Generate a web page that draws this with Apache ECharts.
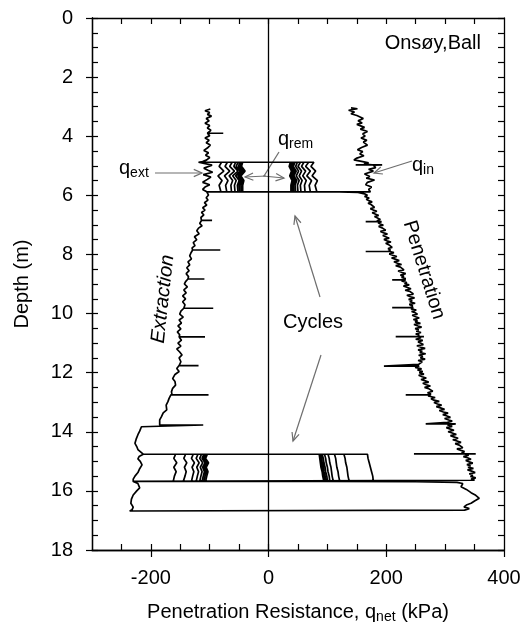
<!DOCTYPE html>
<html><head><meta charset="utf-8">
<script src="https://cdn.jsdelivr.net/npm/echarts@6/dist/echarts.min.js"></script>
<style>html,body{margin:0;padding:0;background:#fff}#c{width:526px;height:622px}</style>
</head><body><div id="c"></div>
<script>
const FONT = '"Liberation Sans", Arial, sans-serif';

// tick values
const xTickLabels = [-200, 0, 200, 400];
const xMinorTicks = [-250, -200, -150, -100, -50, 0, 50, 100, 150, 200, 250, 300, 350];
const yTickLabels = [0, 2, 4, 6, 8, 10, 12, 14, 16, 18];

// traces: [q_net (kPa), depth (m)]
const penetrationUpper = [[140,3.04],[151,3.07],[136,3.12],[146,3.18],[140,3.24],[150,3.3],[161,3.4],[152,3.48],[159,3.55],[150,3.6],[163,3.7],[156,3.76],[168,3.84],[160,3.92],[164,4.0],[157,4.06],[167,4.14],[161,4.2],[168,4.3],[158,4.38],[151,4.46],[160,4.52],[155,4.6],[162,4.66],[150,4.74],[145,4.8],[160,4.86],[170,4.9],[162,4.94],[176,4.97],[148,4.97],[193,4.97],[178,4.98],[182,5.06],[170,5.12],[178,5.18],[163,5.28],[172,5.36],[166,5.42],[180,5.48],[168,5.56],[165,5.64],[175,5.72],[170,5.8],[173,5.88]];

const penetrationMiddle = [[120,5.885],[152,5.9],[163,5.95],
[168,6.0],[163,6.04],[171,6.09],[166,6.13],[170,6.18],[176,6.22],[169,6.27],[174,6.31],[172,6.36],[180,6.41],[173,6.45],[178,6.5],[184,6.54],[176,6.59],[181,6.63],[187,6.68],[180,6.72],[183,6.77],[190,6.82],[184,6.86],[188,6.89],[165,6.89],[192,6.89],[186,6.93],[190,6.97],[195,7.01],[187,7.05],[193,7.1],[191,7.14],
[199,7.18],[190,7.22],[196,7.27],[202,7.31],[194,7.36],[197,7.4],[205,7.45],[196,7.49],[201,7.54],[208,7.58],[199,7.62],[204,7.67],[201,7.71],[210,7.76],[203,7.8],[207,7.85],[203,7.9],[165,7.9],[206,7.9],[213,7.94],[205,7.98],
[211,8.03],[218,8.07],[209,8.12],[215,8.16],[222,8.21],[213,8.25],[219,8.3],[226,8.34],[216,8.38],[224,8.43],[221,8.47],[230,8.52],[220,8.56],[227,8.61],[233,8.65],[224,8.7],[230,8.74],[226,8.78],[233,8.82],[228,8.86],[210,8.86],[233,8.86],[226,8.9],[235,8.95],[231,8.99],
[239,9.03],[229,9.07],[236,9.12],[242,9.16],[232,9.21],[240,9.25],[237,9.29],[246,9.34],[235,9.38],[241,9.43],[248,9.47],[238,9.52],[244,9.56],[240,9.6],[249,9.65],[239,9.69],[245,9.74],[240,9.8],[210,9.8],[246,9.8],[242,9.84],[251,9.88],[243,9.93],[249,9.97],
[253,10.02],[244,10.06],[250,10.11],[256,10.15],[246,10.2],[253,10.24],[249,10.28],[258,10.33],[247,10.37],[254,10.42],[260,10.46],[249,10.51],[255,10.55],[251,10.6],[259,10.64],[250,10.69],[256,10.73],[252,10.78],[216,10.78],[264,10.78],[253,10.78],[259,10.82],[250,10.87],[262,10.91],[254,10.96],[258,11.0],
[263,11.05],[252,11.09],[259,11.14],[266,11.18],[254,11.23],[261,11.27],[257,11.32],[267,11.36],[255,11.41],[262,11.45],[258,11.5],[266,11.54],[254,11.59],[261,11.63],[264,11.68],[255,11.72],[252,11.78],[196,11.78],[256,11.78],[249,11.82],[260,11.87],[253,11.91],[262,11.96],[256,12.0],
[264,12.05],[255,12.09],[261,12.14],[268,12.18],[259,12.23],[265,12.27],[272,12.32],[262,12.36],[268,12.41],[275,12.45],[265,12.5],[272,12.54],[269,12.59],[279,12.63],[270,12.68],[276,12.72],[272,12.75],[233,12.75],[276,12.75],[271,12.79],[283,12.84],[276,12.88],[281,12.93],[290,12.97],[281,13.01],
[287,13.06],[294,13.1],[285,13.15],[292,13.19],[299,13.24],[290,13.28],[297,13.33],[305,13.37],[296,13.42],[302,13.46],[309,13.51],[299,13.55],[306,13.6],[312,13.64],[304,13.68],[306,13.73],[267,13.73],[318,13.73],[304,13.77],[312,13.82],[302,13.86],[309,13.91],[315,13.95],[305,14.0],
[312,14.04],[319,14.09],[309,14.13],[316,14.18],[322,14.22],[313,14.27],[320,14.31],[327,14.36],[317,14.4],[324,14.45],[321,14.49],[330,14.54],[320,14.58],[327,14.63],[333,14.67],[328,14.71],[335,14.75],[247,14.75],[352,14.75],[333,14.75],
[340,14.79],[331,14.84],[338,14.88],[344,14.93],[335,14.97],[341,15.02],[347,15.06],[337,15.11],[343,15.15],[339,15.2],[348,15.24],[338,15.29],[345,15.33],[351,15.38],[341,15.42],[347,15.47],[343,15.51],[352,15.56],[344,15.6],[350,15.64],[349,15.68]];

const penetrationLower = [[250,15.69],[320,15.71],[330,15.75],[327,15.86],[336,15.95],[344,16.06],[352,16.15],[358,16.25],[350,16.34],[344,16.42],[336,16.48],[332,16.54],[341,16.6],[333,16.65],[332,16.68]];

// extraction trace, listed from top to bottom
const extractionUpper = [[-99,3.08],[-108,3.14],[-100,3.2],[-104,3.26],[-97,3.32],[-106,3.4],[-101,3.48],[-108,3.56],[-100,3.64],[-104,3.72],[-98,3.8],[-106,3.86],[-104,3.9],[-77,3.9],[-104,3.9],[-100,3.98],[-108,4.06],[-101,4.14],[-106,4.22],[-99,4.3],[-104,4.4],[-110,4.48],[-102,4.56],[-107,4.64],[-100,4.72],[-105,4.8],[-112,4.86]];

const extractionZone1 = [[-119,4.88],[-96,4.98],[-110,5.08],[-103,5.15],[-95,5.22],[-111,5.3],[-98,5.38],[-104,5.46],[-112,5.56],[-100,5.64],[-108,5.72],[-112,5.8],[-105,5.88]];

const extractionMiddle = [[-102,5.99],[-106,6.08],[-103,6.16],[-109,6.25],[-105,6.33],[-112,6.42],[-108,6.5],[-114,6.58],[-110,6.66],[-115,6.75],[-114,6.85],[-96,6.85],[-114,6.85],[-117,6.95],[-113,7.03],[-119,7.11],[-122,7.2],[-118,7.3],[-126,7.4],[-122,7.5],[-128,7.6],[-125,7.7],[-130,7.78],[-129,7.85],[-82,7.85],[-129,7.85],[-132,7.95],[-134,8.05],[-131,8.15],[-137,8.25],[-134,8.35],[-139,8.45],[-135,8.55],[-140,8.65],[-136,8.75],[-137,8.83],[-109,8.83],[-137,8.83],[-141,8.92],[-143,9.0],[-138,9.1],[-144,9.2],[-140,9.3],[-146,9.4],[-141,9.5],[-146,9.6],[-142,9.7],[-144,9.82],[-94,9.82],[-144,9.82],[-149,9.92],[-151,10.02],[-145,10.12],[-152,10.22],[-148,10.32],[-154,10.42],[-149,10.52],[-155,10.62],[-151,10.72],[-152,10.79],[-108,10.79],[-152,10.79],[-148,10.9],[-154,11.0],[-149,11.1],[-156,11.2],[-151,11.3],[-147,11.4],[-152,11.5],[-149,11.63],[-152,11.76],[-119,11.76],[-152,11.76],[-156,11.86],[-152,11.96],[-159,12.06],[-163,12.2],[-159,12.3],[-158,12.42],[-163,12.53],[-165,12.65],[-164,12.75],[-102,12.75],[-166,12.75],[-169,12.87],[-171,12.98],[-174,13.1],[-173,13.26],[-179,13.36],[-182,13.49],[-185,13.6],[-184,13.71],[-185,13.77],[-111,13.77],[-216,13.77],[-216,13.83],[-219,13.98],[-222,14.1],[-225,14.25],[-227,14.39],[-224,14.5],[-222,14.6],[-213,14.73]];

const extractionZone2 = [[-213,14.76],[-220,14.84],[-222,14.92],[-218,15.0],[-215,15.12],[-219,15.25],[-222,15.38],[-227,15.5],[-230,15.6],[-230,15.68]];

const extractionLower = [[-222,15.75],[-219,15.9],[-224,16.0],[-230,16.14],[-233,16.28],[-234,16.42],[-230,16.55],[-232,16.64],[-236,16.68]];

// cycles near 5 m: q at each depth of cycleDepths1
const cycleDepths1 = [4.88, 5.02, 5.18, 5.34, 5.5, 5.66, 5.88];
const cyclePen1 = [
  [77,72,80,74,83,79,82],
  [68,63,71,65,73,69,71],
  [60,56,63,58,64,61,62],
  [54,50,56,52,57,54,55],
  [49,46,51,47,52,49,50],
  [45,42,47,43,48,45,46],
  [42,39,44,40,45,42,43],
  [39,37,41,38,42,40,40],
  [37,35,39,36,40,38,38]
];
const cycleExt1 = [
  [-80,-84,-76,-86,-79,-84,-81],
  [-70,-74,-66,-75,-69,-73,-71],
  [-62,-66,-58,-67,-61,-64,-63],
  [-56,-59,-52,-61,-55,-58,-57],
  [-52,-55,-48,-56,-50,-53,-52],
  [-49,-51,-45,-52,-47,-50,-49],
  [-46,-48,-42,-49,-44,-47,-46],
  [-44,-46,-40,-47,-42,-44,-44]
];

// cycles near 15 m
const cycleDepths2 = [14.76, 14.9, 15.05, 15.2, 15.35, 15.5, 15.68];
const cyclePen2 = [
  [168,169,171,173,175,177,178],
  [128,130,131,133,134,135,137],
  [112,114,115,116,118,119,121],
  [101,103,104,106,107,108,110],
  [95,97,98,100,101,103,104],
  [91,93,94,96,97,99,100],
  [89,90,91,93,94,96,97],
  [87,88,89,91,92,94,95],
  [86,87,88,89,91,92,94]
];
const cycleExt2 = [
  [-158,-161,-156,-161,-157,-160,-162],
  [-141,-144,-139,-143,-140,-142,-145],
  [-128,-131,-126,-130,-127,-129,-131],
  [-120,-123,-118,-122,-119,-121,-123],
  [-114,-117,-112,-116,-113,-115,-117],
  [-110,-113,-108,-112,-109,-111,-113],
  [-107,-110,-105,-109,-106,-108,-110],
  [-104,-107,-102,-106,-103,-105,-107]
];

// ---- build the continuous test path ----
function cyclePath(depths, pens, exts, initialExt) {
  const out = [];
  initialExt.slice().reverse().forEach(p => out.push(p));
  pens.forEach((pen, i) => {
    for (let j = 0; j < depths.length; j++) out.push([pen[j], depths[j]]);
    if (i < exts.length) {
      for (let j = depths.length - 1; j >= 0; j--) out.push([exts[i][j], depths[j]]);
    }
  });
  return out;
}
const extractionAll = [].concat(extractionUpper, extractionZone1, extractionMiddle, extractionZone2, extractionLower);
const testPath = [].concat(
  penetrationUpper,
  cyclePath(cycleDepths1, cyclePen1, cycleExt1, extractionZone1),
  penetrationMiddle,
  cyclePath(cycleDepths2, cyclePen2, cycleExt2, extractionZone2),
  penetrationLower,
  extractionAll.slice().reverse()
);

// ---- annotation graphics ----
const GREY = '#6e6e6e';
function arrow(x1, y1, x2, y2) {
  const a = Math.atan2(y2 - y1, x2 - x1), L = 9, w = 0.42;
  return [
    {type: 'line', shape: {x1, y1, x2, y2}, style: {stroke: GREY, lineWidth: 1.2}},
    {type: 'polyline', shape: {points: [
      [x2 - L * Math.cos(a - w), y2 - L * Math.sin(a - w)], [x2, y2],
      [x2 - L * Math.cos(a + w), y2 - L * Math.sin(a + w)]]},
      style: {stroke: GREY, lineWidth: 1.2, fill: null}}
  ];
}
function qLabel(x, y, sub) {
  return {type: 'text', x, y, style: {
    text: '{q|q}{s|' + sub + '}', align: 'left', verticalAlign: 'middle',
    rich: {
      q: {fontSize: 20, fontFamily: FONT, fill: '#000'},
      s: {fontSize: 14, fontFamily: FONT, fill: '#000', padding: [10, 0, 0, 0]}
    }}};
}
const txt = (text, x, y, extra) => Object.assign({type: 'text', x, y,
  style: Object.assign({text, fontSize: 20, fontFamily: FONT, fill: '#000', align: 'center', verticalAlign: 'middle'}, extra || {})});

const graphics = [].concat(
  [txt('Onsøy,Ball', 481, 43, {align: 'right'})],
  [qLabel(119, 168, 'ext'), qLabel(278, 139, 'rem'), qLabel(412, 165, 'in')],
  arrow(155, 173, 202, 173),
  arrow(412, 161, 374, 173),
  [{type: 'line', shape: {x1: 279, y1: 152, x2: 264, y2: 176}, style: {stroke: GREY, lineWidth: 1.2}}],
  arrow(266, 176, 245, 177),
  arrow(263, 176, 284, 178),
  [txt('Cycles', 313, 322)],
  arrow(320, 297, 295, 216),
  arrow(321, 355, 293, 441),
  [Object.assign(txt('Extraction', 163, 299, {fontStyle: 'italic'}), {rotation: Math.PI / 2 * 0.93})],
  [Object.assign(txt('Penetration', 424, 270), {rotation: -1.27})]
);

const chart = echarts.init(document.getElementById('c'), null, {renderer: 'canvas'});
const axisLine = {show: true, onZero: false, lineStyle: {color: '#000', width: 1.3}};
const tickStyle = {color: '#000', width: 1.2};
chart.setOption({
  animation: false,
  grid: {left: 92, right: 22, top: 18, bottom: 72, containLabel: false, outerBoundsMode: 'none'},
  xAxis: [
    {type: 'value', min: -300, max: 400, position: 'bottom', axisLine,
     splitLine: {show: false},
     axisTick: {show: true, inside: false, length: 7, lineStyle: tickStyle, customValues: xTickLabels},
     axisLabel: {show: true, customValues: xTickLabels, margin: 18, fontSize: 20, fontFamily: FONT, color: '#000'},
     name: '{a|Penetration Resistance, q}{b|net}{a| (kPa)}', nameLocation: 'middle', nameGap: 50,
     nameTextStyle: {rich: {a: {fontSize: 20, fontFamily: FONT, color: '#000'},
                            b: {fontSize: 14, fontFamily: FONT, color: '#000', padding: [10, 0, 0, 0]}}}},
    {type: 'value', min: -300, max: 400, position: 'bottom', axisLine,
     splitLine: {show: false}, axisLabel: {show: false},
     axisTick: {show: true, inside: true, length: 6, lineStyle: tickStyle, customValues: xMinorTicks}},
    {type: 'value', min: -300, max: 400, position: 'top', axisLine,
     splitLine: {show: false}, axisLabel: {show: false},
     axisTick: {show: true, inside: true, length: 6, lineStyle: tickStyle, customValues: xMinorTicks}}
  ],
  yAxis: [
    {type: 'value', min: 0, max: 18, interval: 2, inverse: true, position: 'left', axisLine,
     splitLine: {show: false},
     axisTick: {show: true, inside: false, length: 6, lineStyle: tickStyle},
     axisLabel: {show: true, customValues: yTickLabels, margin: 19, fontSize: 20, fontFamily: FONT, color: '#000'},
     name: 'Depth (m)', nameLocation: 'middle', nameGap: 60,
     nameTextStyle: {fontSize: 20, fontFamily: FONT, color: '#000'}},
    {type: 'value', min: 0, max: 18, interval: 0.5, inverse: true, position: 'left', axisLine,
     splitLine: {show: false}, axisLabel: {show: false},
     axisTick: {show: true, inside: true, length: 6, lineStyle: tickStyle}},
    {type: 'value', min: 0, max: 18, interval: 0.5, inverse: true, position: 'right', axisLine,
     splitLine: {show: false}, axisLabel: {show: false},
     axisTick: {show: true, inside: true, length: 6, lineStyle: tickStyle}}
  ],
  series: [{
    type: 'line', xAxisIndex: 0, yAxisIndex: 0, data: testPath,
    showSymbol: false, symbol: 'none', smooth: false,
    lineStyle: {color: '#000', width: 1.7},
    markLine: {silent: true, symbol: 'none', label: {show: false},
      lineStyle: {color: '#000', width: 1.3, type: 'solid'},
      data: [{xAxis: 0}]}
  }],
  graphic: graphics
});
</script></body></html>
